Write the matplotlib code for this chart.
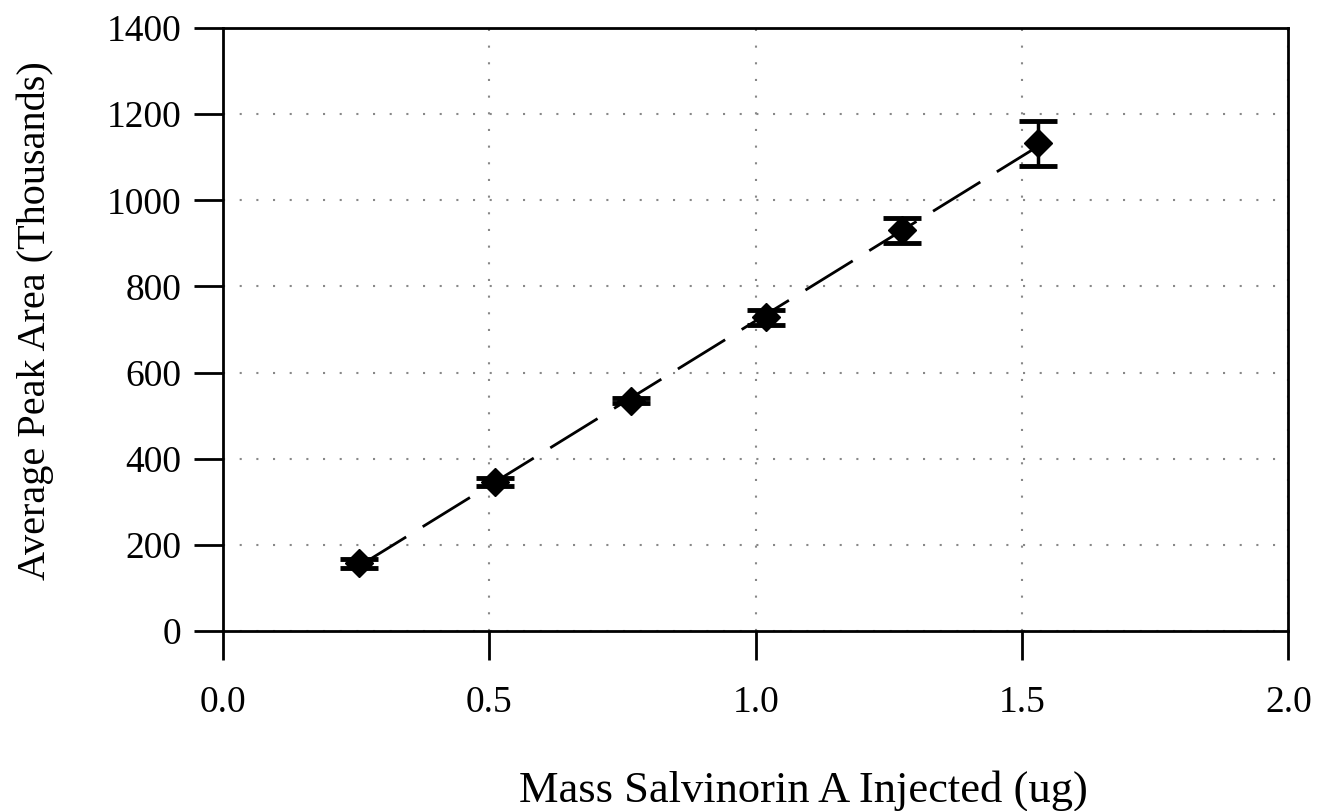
import matplotlib
matplotlib.use('Agg')
import matplotlib.pyplot as plt
import numpy as np

# values
mass_ug = [0.255, 0.51, 0.765, 1.02, 1.275, 1.53]
peak_area = [157, 345, 535, 728, 930, 1132]
peak_err = [10, 9, 6, 17, 29, 52]
x_ticks = [0.0, 0.5, 1.0, 1.5, 2.0]
x_tick_labels = ['0.0', '0.5', '1.0', '1.5', '2.0']
y_ticks = [0, 200, 400, 600, 800, 1000, 1200, 1400]

plt.rcParams['font.family'] = ['Liberation Serif', 'DejaVu Serif']

fig = plt.figure(figsize=(13.2, 8.11), dpi=100)
ax = fig.add_axes([0.169, 0.222, 0.807, 0.7435])

# linear fit drawn as the dashed trend line
slope, icept = np.polyfit(mass_ug, peak_area, 1)
fit_x = np.array([mass_ug[0], mass_ug[-1]])
ax.plot(fit_x, slope * fit_x + icept, color='black', lw=2,
        linestyle=(0, (20, 7)), zorder=2)

ax.errorbar(mass_ug, peak_area, yerr=peak_err, fmt='D', color='black',
            markersize=14, elinewidth=2.5, capsize=14, capthick=3.5,
            zorder=3)

ax.set_xlim(0, 2.0)
ax.set_ylim(0, 1400)
ax.set_xticks(x_ticks)
ax.set_xticklabels(x_tick_labels)
ax.set_yticks(y_ticks)

ax.grid(True, color='#888888', linestyle=(0, (1, 7)), linewidth=1.5)
ax.set_axisbelow(True)

for s in ax.spines.values():
    s.set_linewidth(2)
ax.tick_params(axis='both', direction='out', length=21, width=2,
               labelsize=27)
ax.tick_params(axis='x', pad=18)
ax.tick_params(axis='y', pad=9)

ax.set_xlabel('Mass Salvinorin A Injected (ug)', fontsize=32, labelpad=36, x=0.545)
ax.set_ylabel('Average Peak Area (Thousands)', fontsize=29, labelpad=38, y=0.515)

fig.savefig('out.png', dpi=100)
